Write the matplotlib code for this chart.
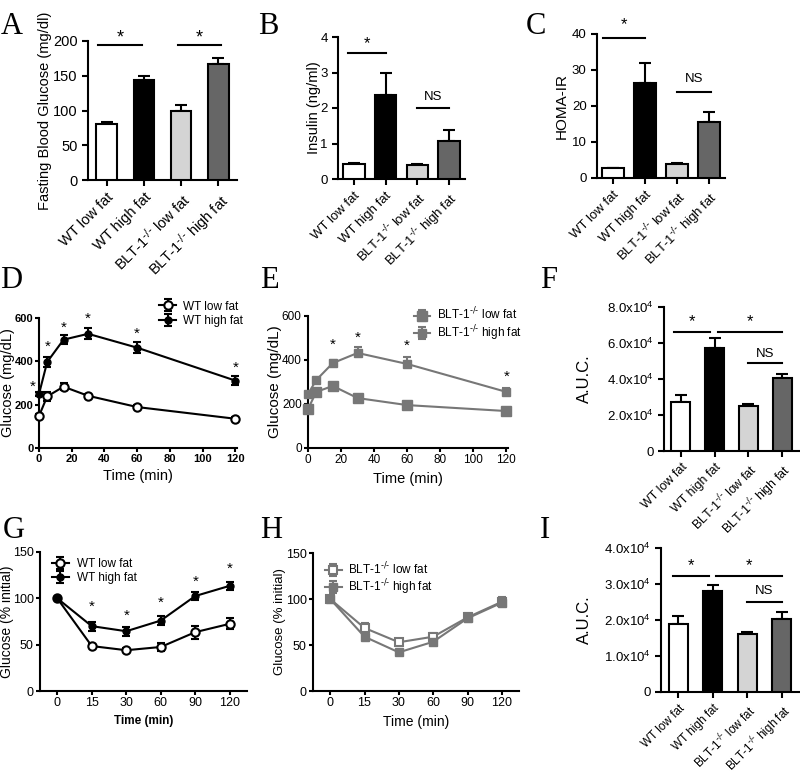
import matplotlib
matplotlib.use('Agg')
import matplotlib.pyplot as plt
import numpy as np

plt.rcParams['font.family'] = ['Liberation Sans', 'DejaVu Sans']
plt.rcParams['mathtext.default'] = 'regular'
plt.rcParams['axes.linewidth'] = 1.5

# ---- data ----
ko = 'BLT-1$^{\\text{-/-}}$'
groups = ['WT low fat', 'WT high fat', ko + ' low fat', ko + ' high fat']
bar_colors = ['white', 'black', '#d4d4d4', '#666666']

glucose_fast = [80, 144, 100, 167]
glucose_fast_err = [3, 5, 8, 8]
insulin = [0.42, 2.38, 0.40, 1.08]
insulin_err = [0.03, 0.62, 0.03, 0.30]
homa_ir = [2.7, 26.5, 3.8, 15.5]
homa_ir_err = [0.2, 5.5, 0.4, 2.8]
gtt_auc = [2.7e4, 5.75e4, 2.5e4, 4.05e4]
gtt_auc_err = [0.4e4, 0.55e4, 0.1e4, 0.25e4]
itt_auc = [1.9e4, 2.8e4, 1.6e4, 2.02e4]
itt_auc_err = [0.2e4, 0.18e4, 0.08e4, 0.2e4]

gtt_time = [0, 5, 15, 30, 60, 120]
gtt_wt_low = [148, 238, 283, 241, 189, 135]
gtt_wt_low_err = [10, 20, 15, 10, 8, 8]
gtt_wt_high = [249, 397, 500, 527, 463, 311]
gtt_wt_high_err = [8, 25, 20, 25, 25, 20]
gtt_blt_low = [177, 255, 282, 227, 195, 168]
gtt_blt_low_err = [8, 10, 12, 8, 8, 8]
gtt_blt_high = [245, 309, 386, 432, 382, 255]
gtt_blt_high_err = [10, 10, 15, 25, 30, 20]

itt_time = ['0', '15', '30', '60', '90', '120']
itt_wt_low = [100, 48.5, 44, 47.5, 63.5, 72.5]
itt_wt_low_err = [1, 2, 2, 4, 7, 6]
itt_wt_high = [100, 70, 64.5, 76, 102.5, 113.5]
itt_wt_high_err = [1, 5, 5, 5, 4, 4]
itt_blt_low = [100, 68.5, 53, 59, 80, 97]
itt_blt_low_err = [2, 5, 3, 4, 5, 5]
itt_blt_high = [100, 59, 42, 53.5, 79, 96]
itt_blt_high_err = [2, 3, 2, 3, 3, 3]

W, H = 800, 777
fig = plt.figure(figsize=(W / 100, H / 100), dpi=100)
gray = '#777777'


def add_ax(l, t, r, b, pad=3.5, length=4):
    ax = fig.add_axes([l / W, 1 - b / H, (r - l) / W, (b - t) / H])
    ax.spines['top'].set_visible(False)
    ax.spines['right'].set_visible(False)
    ax.tick_params(direction='out', width=1.5, length=length, pad=pad)
    return ax


def letter(x, y, s):
    fig.text(x / W, 1 - y / H, s, family='Liberation Serif', fontsize=22, va='center', ha='left')


def bar_panel(ax, vals, errs, width, ylim, yticks, ytl, ylabel, fs_tick, fs_lab, fs_cat, lab_x):
    x = np.arange(4)
    ax.bar(x, vals, width, color=bar_colors, edgecolor='black', linewidth=1.5, zorder=3)
    ax.errorbar(x, vals, yerr=[np.zeros(4), errs], fmt='none', ecolor='black',
                elinewidth=1.5, capsize=4, capthick=1.5, zorder=2)
    ax.set_xlim(-0.5, 3.5)
    ax.set_ylim(*ylim)
    ax.set_yticks(yticks)
    ax.set_yticklabels(ytl, fontsize=fs_tick)
    ax.set_xticks(x)
    ax.set_xticklabels(groups, rotation=45, ha='right', rotation_mode='anchor', fontsize=fs_cat)
    ax.set_ylabel(ylabel, fontsize=fs_lab)
    ax.yaxis.set_label_coords(lab_x, 0.5)


def bracket(ax, x0, x1, y, ys, s, fs=12):
    ax.plot([x0, x1], [y, y], color='black', lw=1.5, clip_on=False)
    ax.text((x0 + x1) / 2, ys, s, ha='center', va='center', fontsize=fs)


# ---- A ----
ax = add_ax(88, 41, 237, 180)
bar_panel(ax, glucose_fast, glucose_fast_err, 0.55, (0, 200), [0, 50, 100, 150, 200],
          ['0', '50', '100', '150', '200'], 'Fasting Blood Glucose (mg/dl)', 10.5, 10.5, 10.5, -0.24)
bracket(ax, -0.22, 0.95, 194, 205, '*', 13)
bracket(ax, 1.92, 3.08, 194, 205, '*', 13)
letter(1, 27, 'A')

# ---- B ----
ax = add_ax(338, 37, 465, 179)
bar_panel(ax, insulin, insulin_err, 0.68, (0, 4), [0, 1, 2, 3, 4],
          ['0', '1', '2', '3', '4'], 'Insulin (ng/ml)', 9.5, 10.5, 9.5, -0.134)
bracket(ax, -0.2, 1.0, 3.55, 3.8, '*', 12)
bracket(ax, 2.0, 3.0, 2.0, 2.3, 'NS', 9.5)
letter(258, 27, 'B')

# ---- C ----
ax = add_ax(597, 34, 725, 178)
bar_panel(ax, homa_ir, homa_ir_err, 0.7, (0, 40), [0, 10, 20, 30, 40],
          ['0', '10', '20', '30', '40'], 'HOMA-IR', 9.5, 11, 9.5, -0.22)
bracket(ax, -0.3, 1.0, 39, 42.5, '*', 12)
bracket(ax, 2.0, 3.05, 24, 27.5, 'NS', 9.5)
letter(526, 27, 'C')

# ---- D ----
ax = add_ax(39, 318, 237, 448, pad=1, length=3)
ax.errorbar(gtt_time, gtt_wt_low, yerr=gtt_wt_low_err, color='black', lw=1.5, marker='o',
            ms=6, mfc='white', mec='black', mew=1.5, capsize=3, capthick=1.5, label='WT low fat',
            clip_on=False, zorder=3)
ax.errorbar(gtt_time, gtt_wt_high, yerr=gtt_wt_high_err, color='black', lw=1.5, marker='o',
            ms=5, capsize=3, capthick=1.5, label='WT high fat', clip_on=False, zorder=3)
ax.set_xlim(0, 121)
ax.set_ylim(0, 600)
ax.set_xticks([0, 20, 40, 60, 80, 100, 120])
ax.set_yticks([0, 200, 400, 600])
for lab in ax.get_xticklabels() + ax.get_yticklabels():
    lab.set_fontweight('bold')
    lab.set_fontsize(8)
ax.set_xlabel('Time (min)', fontsize=10.5)
ax.set_ylabel('Glucose (mg/dL)', fontsize=10.5)
ax.yaxis.set_label_coords(-0.122, 0.5)
for tx, ty in zip([-4, 5.5, 15, 30, 60, 120], [281, 466, 554, 598, 526, 369]):
    ax.text(tx, ty, '*', ha='center', va='center', fontsize=11, clip_on=False)
ax.legend(loc='upper right', bbox_to_anchor=(1.06, 1.18), frameon=False, fontsize=8.5,
          handlelength=1.4, handletextpad=0.6, labelspacing=0.25, borderpad=0)
letter(0, 280, 'D')

# ---- E ----
ax = add_ax(308, 316, 508, 448, pad=1.5, length=3)
ax.errorbar(gtt_time, gtt_blt_low, yerr=[np.zeros(6), gtt_blt_low_err], color=gray, lw=1.5,
            marker='s', ms=7, capsize=3, capthick=1.5, label=ko + ' low fat',
            clip_on=False, zorder=3)
ax.errorbar(gtt_time, gtt_blt_high, yerr=[np.zeros(6), gtt_blt_high_err], color=gray, lw=1.5,
            marker='s', ms=5.5, capsize=3, capthick=1.5, label=ko + ' high fat',
            clip_on=False, zorder=3)
ax.set_xlim(0, 121)
ax.set_ylim(0, 600)
ax.set_xticks([0, 20, 40, 60, 80, 100, 120])
ax.set_yticks([0, 200, 400, 600])
ax.tick_params(labelsize=8.5)
ax.set_xlabel('Time (min)', fontsize=10.5)
ax.set_ylabel('Glucose (mg/dL)', fontsize=11)
ax.yaxis.set_label_coords(-0.13, 0.5)
for tx, ty in zip([15, 30, 60, 120], [468, 500, 464, 323]):
    ax.text(tx, ty, '*', ha='center', va='center', fontsize=11)
ax.legend(loc='upper right', bbox_to_anchor=(1.1, 1.12), frameon=False, fontsize=8.5,
          handlelength=1.4, handletextpad=0.6, labelspacing=0.05, borderpad=0)
letter(260, 280, 'E')

# ---- F ----
ax = add_ax(664, 307, 799, 451)
bar_panel(ax, gtt_auc, gtt_auc_err, 0.56, (0, 8e4), [0, 2e4, 4e4, 6e4, 8e4],
          ['0', '2.0x10$^4$', '4.0x10$^4$', '6.0x10$^4$', '8.0x10$^4$'], 'A.U.C.',
          9.5, 12, 9, -0.53)
bracket(ax, -0.2, 0.85, 6.6e4, 7.2e4, '*', 12)
bracket(ax, 1.1, 3.0, 6.6e4, 7.2e4, '*', 12)
bracket(ax, 2.0, 3.0, 4.9e4, 5.4e4, 'NS', 9.5)
letter(540, 280, 'F')

# ---- G ----
ax = add_ax(40, 552, 247, 691, pad=1.5, length=3)
xi = np.arange(6)
ax.errorbar(xi, itt_wt_low, yerr=itt_wt_low_err, color='black', lw=1.5, marker='o', ms=6,
            mfc='white', mec='black', mew=1.5, capsize=3, capthick=1.5, label='WT low fat', zorder=3)
ax.errorbar(xi, itt_wt_high, yerr=itt_wt_high_err, color='black', lw=1.5, marker='o', ms=5,
            capsize=3, capthick=1.5, label='WT high fat', zorder=3)
ax.set_xlim(-0.5, 5.5)
ax.set_ylim(0, 150)
ax.set_xticks(xi)
ax.set_xticklabels(itt_time)
ax.set_yticks([0, 50, 100, 150])
ax.tick_params(labelsize=9)
ax.set_xlabel('Time (min)', fontsize=8.5, fontweight='bold')
ax.set_ylabel('Glucose (% initial)', fontsize=10)
ax.yaxis.set_label_coords(-0.126, 0.5)
for tx, ty in zip([1, 2, 3, 4, 5], [90.5, 81, 95, 118, 132]):
    ax.text(tx, ty, '*', ha='center', va='center', fontsize=11)
ax.legend(loc='upper left', bbox_to_anchor=(0.03, 1.0), frameon=False, fontsize=8.5,
          handlelength=1.4, handletextpad=0.7, labelspacing=0.2, borderpad=0)
letter(3, 530, 'G')

# ---- H ----
ax = add_ax(313, 553, 519, 691, pad=1.5, length=3)
ax.errorbar(xi, itt_blt_low, yerr=itt_blt_low_err, color=gray, lw=1.5, marker='s', ms=6,
            mfc='white', mec=gray, mew=1.5, capsize=3, capthick=1.5,
            label=ko + ' low fat', zorder=3)
ax.errorbar(xi, itt_blt_high, yerr=itt_blt_high_err, color=gray, lw=1.5, marker='s', ms=6,
            capsize=3, capthick=1.5, label=ko + ' high fat', zorder=3)
ax.set_xlim(-0.5, 5.5)
ax.set_ylim(0, 150)
ax.set_xticks(xi)
ax.set_xticklabels(itt_time)
ax.set_yticks([0, 50, 100, 150])
ax.tick_params(labelsize=9)
ax.set_xlabel('Time (min)', fontsize=10)
ax.set_ylabel('Glucose (% initial)', fontsize=9.5)
ax.yaxis.set_label_coords(-0.13, 0.5)
ax.legend(loc='upper left', bbox_to_anchor=(0.03, 0.99), frameon=False, fontsize=8.5,
          handlelength=1.4, handletextpad=0.5, labelspacing=0.05, borderpad=0)
letter(260, 530, 'H')

# ---- I ----
ax = add_ax(661, 548, 799, 692)
bar_panel(ax, itt_auc, itt_auc_err, 0.54, (0, 4e4), [0, 1e4, 2e4, 3e4, 4e4],
          ['0', '1.0x10$^4$', '2.0x10$^4$', '3.0x10$^4$', '4.0x10$^4$'], 'A.U.C.',
          9.5, 12, 8.5, -0.5)
bracket(ax, -0.15, 0.9, 3.22e4, 3.5e4, '*', 12)
bracket(ax, 1.1, 3.0, 3.22e4, 3.5e4, '*', 12)
bracket(ax, 2.0, 3.0, 2.5e4, 2.8e4, 'NS', 9.5)
letter(540, 530, 'I')

fig.savefig('out.png', dpi=100)
